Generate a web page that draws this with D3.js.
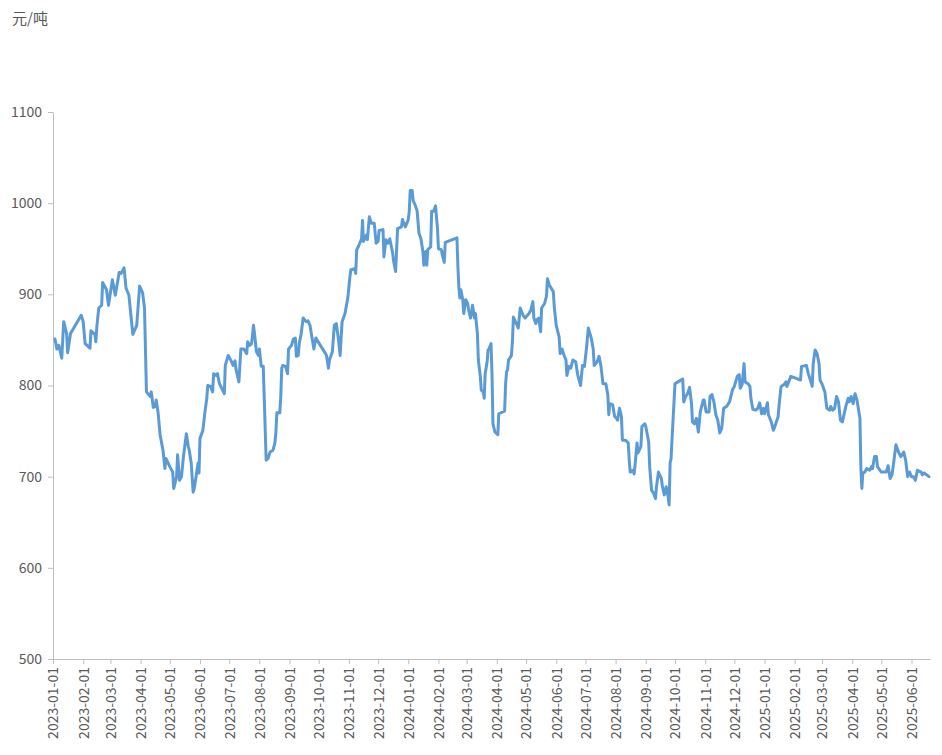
<!DOCTYPE html>
<html><head><meta charset="utf-8">
<script src="https://cdn.jsdelivr.net/npm/d3@7"></script>
<style>
body{margin:0;background:#fff;}
text{font-family:"Noto Sans CJK SC","Noto Sans",sans-serif;fill:#595959;}
</style></head>
<body><svg id="c" width="942" height="755"></svg>
<script>
const unitLabel = "元/吨";
const yTicks = [500,600,700,800,900,1000,1100];
const dates = [
"2023-01-03","2023-01-05","2023-01-07","2023-01-10","2023-01-12","2023-01-15","2023-01-16","2023-01-19","2023-01-30","2023-02-01",
"2023-02-03","2023-02-08","2023-02-09","2023-02-13","2023-02-14","2023-02-15","2023-02-17","2023-02-20","2023-02-21","2023-02-25",
"2023-02-27","2023-03-03","2023-03-06","2023-03-10","2023-03-12","2023-03-15","2023-03-17","2023-03-20","2023-03-24","2023-03-28",
"2023-03-31","2023-04-03","2023-04-05","2023-04-07","2023-04-11","2023-04-12","2023-04-14","2023-04-16","2023-04-17","2023-04-19",
"2023-04-21","2023-04-24","2023-04-26","2023-04-27","2023-05-01","2023-05-04","2023-05-05","2023-05-08","2023-05-09","2023-05-11",
"2023-05-13","2023-05-15","2023-05-18","2023-05-20","2023-05-21","2023-05-23","2023-05-25","2023-05-26","2023-05-28","2023-05-30",
"2023-05-31","2023-06-01","2023-06-04","2023-06-06","2023-06-08","2023-06-09","2023-06-12","2023-06-14","2023-06-15","2023-06-18",
"2023-06-19","2023-06-21","2023-06-26","2023-06-27","2023-06-30","2023-07-03","2023-07-05","2023-07-07","2023-07-08","2023-07-11",
"2023-07-13","2023-07-16","2023-07-19","2023-07-20","2023-07-22","2023-07-24","2023-07-26","2023-07-27","2023-07-29","2023-07-31",
"2023-08-01","2023-08-03","2023-08-05","2023-08-08","2023-08-10","2023-08-12","2023-08-15","2023-08-17","2023-08-18","2023-08-19",
"2023-08-22","2023-08-23","2023-08-24","2023-08-25","2023-08-28","2023-08-30","2023-08-31","2023-09-03","2023-09-05","2023-09-07",
"2023-09-08","2023-09-10","2023-09-11","2023-09-13","2023-09-15","2023-09-18","2023-09-20","2023-09-22","2023-09-26","2023-09-28",
"2023-10-08","2023-10-09","2023-10-11","2023-10-12","2023-10-15","2023-10-17","2023-10-19","2023-10-21","2023-10-23","2023-10-25",
"2023-10-28","2023-10-31","2023-11-02","2023-11-03","2023-11-07","2023-11-08","2023-11-09","2023-11-11","2023-11-14","2023-11-15",
"2023-11-16","2023-11-19","2023-11-20","2023-11-22","2023-11-24","2023-11-27","2023-11-29","2023-12-01","2023-12-02","2023-12-06",
"2023-12-07","2023-12-09","2023-12-11","2023-12-13","2023-12-16","2023-12-17","2023-12-19","2023-12-21","2023-12-25","2023-12-26",
"2023-12-29","2024-01-01","2024-01-02","2024-01-03","2024-01-05","2024-01-06","2024-01-08","2024-01-10","2024-01-12","2024-01-14",
"2024-01-16","2024-01-17","2024-01-19","2024-01-20","2024-01-21","2024-01-24","2024-01-25","2024-01-27","2024-01-29","2024-01-31",
"2024-02-01","2024-02-04","2024-02-05","2024-02-07","2024-02-08","2024-02-20","2024-02-21","2024-02-22","2024-02-23","2024-02-24",
"2024-02-26","2024-02-27","2024-02-29","2024-03-02","2024-03-03","2024-03-05","2024-03-07","2024-03-09","2024-03-10","2024-03-12",
"2024-03-13","2024-03-15","2024-03-16","2024-03-18","2024-03-19","2024-03-20","2024-03-22","2024-03-23","2024-03-24","2024-03-26",
"2024-03-27","2024-03-28","2024-03-30","2024-04-02","2024-04-03","2024-04-09","2024-04-10","2024-04-11","2024-04-12","2024-04-13",
"2024-04-16","2024-04-17","2024-04-18","2024-04-21","2024-04-23","2024-04-25","2024-04-28","2024-04-30","2024-05-04","2024-05-06",
"2024-05-08","2024-05-09","2024-05-11","2024-05-12","2024-05-14","2024-05-16","2024-05-17","2024-05-20","2024-05-22","2024-05-23",
"2024-05-25","2024-05-29","2024-05-30","2024-06-01","2024-06-04","2024-06-05","2024-06-07","2024-06-09","2024-06-11","2024-06-12",
"2024-06-14","2024-06-16","2024-06-18","2024-06-21","2024-06-23","2024-06-26","2024-06-28","2024-06-30","2024-07-02","2024-07-04",
"2024-07-07","2024-07-09","2024-07-10","2024-07-13","2024-07-15","2024-07-17","2024-07-19","2024-07-22","2024-07-24","2024-07-25",
"2024-07-26","2024-07-29","2024-07-31","2024-08-02","2024-08-03","2024-08-05","2024-08-07","2024-08-08","2024-08-11","2024-08-14",
"2024-08-15","2024-08-16","2024-08-19","2024-08-20","2024-08-21","2024-08-23","2024-08-24","2024-08-27","2024-08-28","2024-08-31",
"2024-09-01","2024-09-04","2024-09-05","2024-09-07","2024-09-09","2024-09-11","2024-09-12","2024-09-14","2024-09-17","2024-09-18",
"2024-09-20","2024-09-22","2024-09-24","2024-09-25","2024-09-26","2024-09-27","2024-09-28","2024-10-01","2024-10-04","2024-10-09",
"2024-10-10","2024-10-12","2024-10-14","2024-10-16","2024-10-18","2024-10-19","2024-10-21","2024-10-23","2024-10-25","2024-10-27",
"2024-10-30","2024-10-31","2024-11-02","2024-11-05","2024-11-06","2024-11-08","2024-11-10","2024-11-12","2024-11-14","2024-11-16",
"2024-11-18","2024-11-20","2024-11-23","2024-11-26","2024-11-29","2024-12-01","2024-12-04","2024-12-06","2024-12-07","2024-12-09",
"2024-12-11","2024-12-12","2024-12-15","2024-12-17","2024-12-18","2024-12-20","2024-12-23","2024-12-25","2024-12-27","2024-12-29",
"2024-12-31","2025-01-01","2025-01-04","2025-01-05","2025-01-08","2025-01-10","2025-01-11","2025-01-15","2025-01-16","2025-01-18",
"2025-01-21","2025-01-23","2025-01-24","2025-01-28","2025-02-02","2025-02-07","2025-02-08","2025-02-13","2025-02-15","2025-02-19",
"2025-02-20","2025-02-22","2025-02-24","2025-02-26","2025-02-27","2025-03-01","2025-03-04","2025-03-05","2025-03-06","2025-03-09",
"2025-03-10","2025-03-12","2025-03-14","2025-03-16","2025-03-18","2025-03-20","2025-03-22","2025-03-24","2025-03-26","2025-03-28",
"2025-03-29","2025-03-31","2025-04-02","2025-04-04","2025-04-06","2025-04-09","2025-04-10","2025-04-11","2025-04-12","2025-04-14",
"2025-04-16","2025-04-19","2025-04-21","2025-04-22","2025-04-24","2025-04-26","2025-04-27","2025-05-01","2025-05-06","2025-05-08",
"2025-05-10","2025-05-12","2025-05-14","2025-05-16","2025-05-19","2025-05-21","2025-05-24","2025-05-26","2025-05-28","2025-05-30",
"2025-06-01","2025-06-03","2025-06-05","2025-06-07","2025-06-11","2025-06-12","2025-06-14","2025-06-19"
];
const prices = [
851,840,844,830,870,857,836,857,877,870,
846,841,860,856,848,864,885,888,913,905,
888,916,899,924,923,929,907,899,856,866,
909,902,885,793,788,793,776,777,784,770,
746,729,709,720,711,705,687,700,724,696,
700,722,747,733,729,715,683,687,700,715,
704,742,751,770,786,800,799,793,813,811,
813,802,791,822,833,827,822,827,818,804,
840,840,835,848,844,846,866,857,837,833,
840,821,821,718,720,727,729,737,749,770,
770,788,819,822,821,813,840,844,851,852,
832,833,846,857,874,870,871,866,840,852,
835,833,819,828,837,866,868,853,833,870,
879,897,919,927,928,923,949,953,961,981,
958,965,960,985,978,978,956,958,970,971,
941,960,956,961,945,936,925,972,974,982,
974,982,991,1014,1014,1003,998,992,967,961,
947,932,947,932,949,952,991,991,997,972,
950,949,943,935,957,962,930,907,896,905,
894,879,894,890,883,874,888,874,879,857,
828,810,795,793,786,813,826,839,840,846,
813,758,749,746,769,772,802,815,817,828,
833,848,875,868,863,885,877,874,879,883,
892,874,868,872,874,859,885,890,898,917,
910,903,886,866,853,835,840,833,828,811,
821,819,828,826,812,800,822,821,840,863,
852,840,822,826,832,821,802,802,790,768,
780,779,766,764,762,775,766,740,740,737,
718,705,707,703,713,737,726,733,755,758,
755,738,711,685,682,676,689,705,698,690,
680,689,678,669,715,720,742,802,804,807,
782,788,791,798,780,760,758,764,749,771,
784,784,771,771,788,790,782,768,762,748,
753,775,777,782,795,799,810,812,797,801,
824,804,802,799,786,774,773,775,781,769,
775,769,781,768,760,751,753,766,779,799,
801,804,799,810,808,806,821,822,813,799,
824,839,835,824,806,802,793,784,775,773,
777,773,775,788,782,762,760,770,779,786,
782,788,780,791,784,764,709,687,704,705,
709,707,711,709,722,722,711,705,705,712,
698,702,718,735,726,722,727,718,700,705,
700,700,696,707,705,702,704,700
];
const xStart = "2023-01-01", xEnd = "2025-06-20";
const tickStart = "2023-01-01", tickEnd = "2025-06-01";

const parse = d3.timeParse("%Y-%m-%d");
const data = dates.map((d,i)=>({date:parse(d), value:prices[i]}));

const svg = d3.select("#c");
const m = {left:53, right:930, top:112, bottom:659};

const x = d3.scaleTime().domain([parse(xStart), parse(xEnd)]).range([m.left, m.right]);
const y = d3.scaleLinear().domain([500,1100]).range([m.bottom, m.top]);

// Y axis
const yAxis = svg.append("g").attr("transform",`translate(${m.left},0)`)
  .call(d3.axisLeft(y).tickValues(yTicks).tickFormat(d3.format("d")).tickSize(5).tickSizeOuter(0).tickPadding(6));
yAxis.selectAll("text").style("font-size","14px").style("fill","#595959");
yAxis.selectAll("line").attr("stroke","#bfbfbf");
yAxis.select(".domain").attr("stroke","#bfbfbf");

// X axis
const monthTicks = d3.timeMonth.range(parse(tickStart), d3.timeDay.offset(parse(tickEnd),1));
const xAxis = svg.append("g").attr("transform",`translate(0,${m.bottom})`)
  .call(d3.axisBottom(x).tickValues(monthTicks).tickFormat(d3.timeFormat("%Y-%m-%d")).tickSize(5).tickSizeOuter(0));
xAxis.select(".domain").attr("stroke","#bfbfbf");
xAxis.selectAll("line").attr("stroke","#bfbfbf");
xAxis.selectAll("text")
  .style("font-size","14px").style("fill","#595959")
  .attr("text-anchor","end")
  .attr("transform","rotate(-90)")
  .attr("x",-8).attr("y",0).attr("dy","0.35em");

// unit label
svg.append("text").attr("x",12).attr("y",24).style("font-size","15px").text(unitLabel);

// line
const line = d3.line().x(d=>x(d.date)).y(d=>y(d.value));
svg.append("path").datum(data)
  .attr("fill","none").attr("stroke","#5b9bd5").attr("stroke-width",3)
  .attr("stroke-linejoin","round").attr("stroke-linecap","round")
  .attr("d",line);
</script></body></html>
